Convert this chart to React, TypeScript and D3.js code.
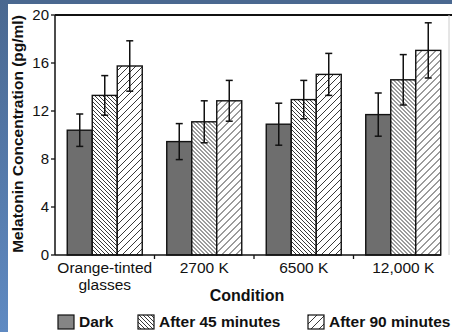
import * as d3 from 'd3';

const conditions = ['Orange-tinted glasses', '2700 K', '6500 K', '12,000 K'];
const series = ['Dark', 'After 45 minutes', 'After 90 minutes'];
// mean melatonin (pg/ml) per condition, per series
const dark = [10.4, 9.45, 10.9, 11.7];
const after45 = [13.3, 11.1, 12.95, 14.6];
const after90 = [15.75, 12.85, 15.05, 17.05];
// error bar half-lengths
const darkErr = [1.35, 1.5, 1.75, 1.8];
const after45Err = [1.65, 1.75, 1.6, 2.1];
const after90Err = [2.1, 1.7, 1.75, 2.3];
const yTicks = [0, 4, 8, 12, 16, 20];

const values = [dark, after45, after90];
const errors = [darkErr, after45Err, after90Err];
const fills = ['#6e6e6e', 'url(#back)', 'url(#fwd)'];
const legendFills = ['#858585', 'url(#back)', 'url(#fwdWide)'];

const W = 452;
const H = 332;
const FONT = '"Liberation Sans", Arial, sans-serif';

function App() {
  const x0 = d3.scaleBand(conditions, [55, 453]);
  const x1 = d3.scaleBand(series, [0, x0.bandwidth()]).paddingOuter(0.49);
  const y = d3.scaleLinear([0, 20], [255, 15]);

  return (
    <svg width={W} height={H} style={{ position: 'absolute', left: 0, top: 0, background: '#fff' }} fontFamily={FONT}>
      <defs>
        <linearGradient id="blue" x1="0" y1="0" x2="0" y2="1">
          <stop offset="0" stopColor="#4a6890" />
          <stop offset="1" stopColor="#5f8ac2" />
        </linearGradient>
        <pattern id="back" patternUnits="userSpaceOnUse" width="4" height="4">
          <rect width="4" height="4" fill="#fff" />
          <path d="M0,0 L4,4 M-1,3 L1,5 M3,-1 L5,1" stroke="#222" strokeWidth="0.9" />
        </pattern>
        <pattern id="fwd" patternUnits="userSpaceOnUse" width="7" height="7">
          <rect width="7" height="7" fill="#fff" />
          <path d="M0,7 L7,0 M-1,1 L1,-1 M6,8 L8,6" stroke="#222" strokeWidth="0.9" />
        </pattern>
        <pattern id="fwdWide" patternUnits="userSpaceOnUse" width="8" height="8">
          <rect width="8" height="8" fill="#fff" />
          <path d="M0,8 L8,0 M-1,1 L1,-1 M7,9 L9,7" stroke="#222" strokeWidth="0.9" />
        </pattern>
      </defs>

      {/* blue slide border */}
      <rect x={0} y={0} width={W} height={4} fill="#4a6890" />
      <rect x={0} y={0} width={8} height={H} fill="url(#blue)" />

      {/* frame */}
      <line x1={55} x2={452} y1={15} y2={15} stroke="#111" strokeWidth={1.8} />
      <line x1={449} x2={449} y1={15} y2={255} stroke="#ccc" strokeWidth={1} />

      {/* bars */}
      {conditions.map((c, i) => (
        <g key={c} transform={`translate(${x0(c)},0)`}>
          {series.map((s, j) => {
            const v = values[j][i];
            const e = errors[j][i];
            const bx = x1(s) as number;
            const cx = bx + x1.bandwidth() / 2;
            return (
              <g key={s}>
                <rect x={bx} y={y(v)} width={x1.bandwidth()} height={y(0) - y(v)}
                  fill={fills[j]} stroke="#111" strokeWidth={1.4} />
                <g stroke="#111" strokeWidth={1.5}>
                  <line x1={cx} x2={cx} y1={y(v + e)} y2={y(v - e)} />
                  <line x1={cx - 3.5} x2={cx + 3.5} y1={y(v + e)} y2={y(v + e)} />
                  <line x1={cx - 3.5} x2={cx + 3.5} y1={y(v - e)} y2={y(v - e)} />
                </g>
              </g>
            );
          })}
        </g>
      ))}

      {/* y axis */}
      <line x1={55} x2={55} y1={15} y2={255} stroke="#111" strokeWidth={1.5} />
      {yTicks.map((t) => (
        <g key={t}>
          <line x1={51} x2={55} y1={y(t)} y2={y(t)} stroke="#111" strokeWidth={1.3} />
          <text x={49} y={y(t)} dy="0.36em" textAnchor="end" fontSize={15} fill="#111">{t}</text>
        </g>
      ))}
      <text transform="translate(17,134) rotate(-90)" textAnchor="middle" dominantBaseline="central"
        fontSize={15.5} fontWeight="bold" fill="#111">Melatonin Concentration (pg/ml)</text>

      {/* x axis */}
      <line x1={55} x2={441} y1={255} y2={255} stroke="#111" strokeWidth={1.5} />
      {conditions.slice(1).map((c) => (
        <line key={c} x1={x0(c)} x2={x0(c)} y1={255} y2={259} stroke="#111" strokeWidth={1.3} />
      ))}
      {conditions.map((c) => {
        const cx = (x0(c) as number) + x0.bandwidth() / 2;
        const lines = c === 'Orange-tinted glasses' ? ['Orange-tinted', 'glasses'] : [c];
        return (
          <text key={c} x={cx} y={273} textAnchor="middle" fontSize={15.5} fill="#111">
            {lines.map((l, k) => (
              <tspan key={l} x={cx} dy={k === 0 ? 0 : 16.5}>{l}</tspan>
            ))}
          </text>
        );
      })}
      <text x={247} y={301} textAnchor="middle" fontSize={16} fontWeight="bold" fill="#111">Condition</text>

      {/* legend */}
      {series.map((s, j) => {
        const lx = [58, 138, 308][j];
        return (
          <g key={s}>
            <rect x={lx} y={315} width={16} height={14} fill={legendFills[j]} stroke="#111" strokeWidth={1.2} />
            <text x={lx + 21} y={327} fontSize={15.5} fontWeight="bold" fill="#111">{s}</text>
          </g>
        );
      })}
    </svg>
  );
}

export default App;
